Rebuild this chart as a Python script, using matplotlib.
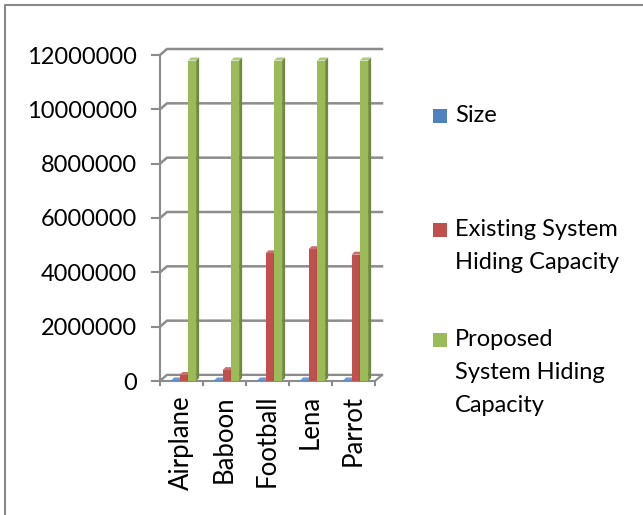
import matplotlib.pyplot as plt
from matplotlib.patches import Polygon, Rectangle
from matplotlib.lines import Line2D

plt.rcParams['font.family'] = ['Lato', 'DejaVu Sans']

images = ['Airplane', 'Baboon', 'Football', 'Lena', 'Parrot']
size = [20000, 20000, 20000, 20000, 20000]
existing = [220000, 400000, 4700000, 4850000, 4650000]
proposed = [11796480, 11796480, 11796480, 11796480, 11796480]

series = [
    ('Size', size, '#4F81BD', '#385D8A', '#6f98cc'),
    ('Existing System\nHiding Capacity', existing, '#C0504D', '#943634', '#cf6f6c'),
    ('Proposed\nSystem Hiding\nCapacity', proposed, '#9BBB59', '#71893F', '#aec97a'),
]
yticks = [0, 2000000, 4000000, 6000000, 8000000, 10000000, 12000000]

W, H = 643, 515
fig = plt.figure(figsize=(W / 100, H / 100), dpi=100)
ax_l, ax_b, ax_w, ax_h = 160, 381, 215, 326
ax = fig.add_axes([ax_l / W, (H - ax_b) / H, ax_w / W, ax_h / H])
ymax = 12000000
ax.set_xlim(0, 5)
ax.set_ylim(0, ymax)

# pixel -> data units
sx = 5 / ax_w
sy = ymax / ax_h
wall_dx, wall_dy = 7, 6
grid_c = '#8c8c8c'

# back wall gridlines, left wall slants and axis ticks
for v in yticks:
    ax.plot([0, wall_dx * sx, 5 + wall_dx * sx],
            [v, v + wall_dy * sy, v + wall_dy * sy],
            color=grid_c, lw=1.8, clip_on=False, zorder=1)
    ax.plot([-8 * sx, 0], [v, v], color=grid_c, lw=1.5, clip_on=False, zorder=1)
ax.plot([0, 0], [0, ymax], color=grid_c, lw=1.5, clip_on=False, zorder=1)

# floor
floor = Polygon([(0, 0), (5, 0), (5 + wall_dx * sx, wall_dy * sy), (wall_dx * sx, wall_dy * sy)],
                closed=True, facecolor='white', edgecolor=grid_c, lw=1.5, clip_on=False, zorder=1.5)
ax.add_patch(floor)
for k in range(6):
    ax.plot([k, k], [0, -4 * sy], color=grid_c, lw=1.5, clip_on=False, zorder=1)

# bars with a little depth
bw = 0.19
offsets = [0.26, 0.455, 0.65]
d = 3
for (name, vals, c, side_c, top_c), off in zip(series, offsets):
    for i, h in enumerate(vals):
        x0 = i + off
        x1 = x0 + bw
        ax.bar(x0, h, width=bw, align='edge', color=c, edgecolor='none', zorder=3, clip_on=False)
        ax.add_patch(Polygon([(x1, 0), (x1 + d * sx, d * sy), (x1 + d * sx, h + d * sy), (x1, h)],
                             closed=True, facecolor=side_c, edgecolor='none', zorder=3, clip_on=False))
        ax.add_patch(Polygon([(x0, h), (x0 + d * sx, h + d * sy), (x1 + d * sx, h + d * sy), (x1, h)],
                             closed=True, facecolor=top_c, edgecolor='none', zorder=3, clip_on=False))

for s in ax.spines.values():
    s.set_visible(False)
ax.set_yticks(yticks)
ax.set_yticklabels([str(v) for v in yticks], fontsize=17)
ax.tick_params(axis='y', length=0, pad=16.5)
ax.set_xticks([i + 0.5 for i in range(5)])
ax.set_xticklabels(images, rotation=90, fontsize=18.5)
ax.tick_params(axis='x', length=0, pad=10)

# legend
leg_y = [116, 230, 340]
line_gap = 32.5
for (name, vals, c, side_c, top_c), yc in zip(series, leg_y):
    fig.patches.append(Rectangle((433 / W, (H - yc - 7) / H), 14 / W, 14 / H,
                                 transform=fig.transFigure, facecolor=c, edgecolor='none'))
    for j, line in enumerate(name.split('\n')):
        fig.text(455 / W, (H - yc - j * line_gap) / H, line, fontsize=17,
                 ha='left', va='center')

# outer frame (top and left edges)
fig.lines.append(Line2D([5 / W, 5 / W, 1], [0, (H - 4.5) / H, (H - 4.5) / H],
                        transform=fig.transFigure, color='#8a8a8a', lw=1.5))

fig.savefig('out.png', dpi=100)
